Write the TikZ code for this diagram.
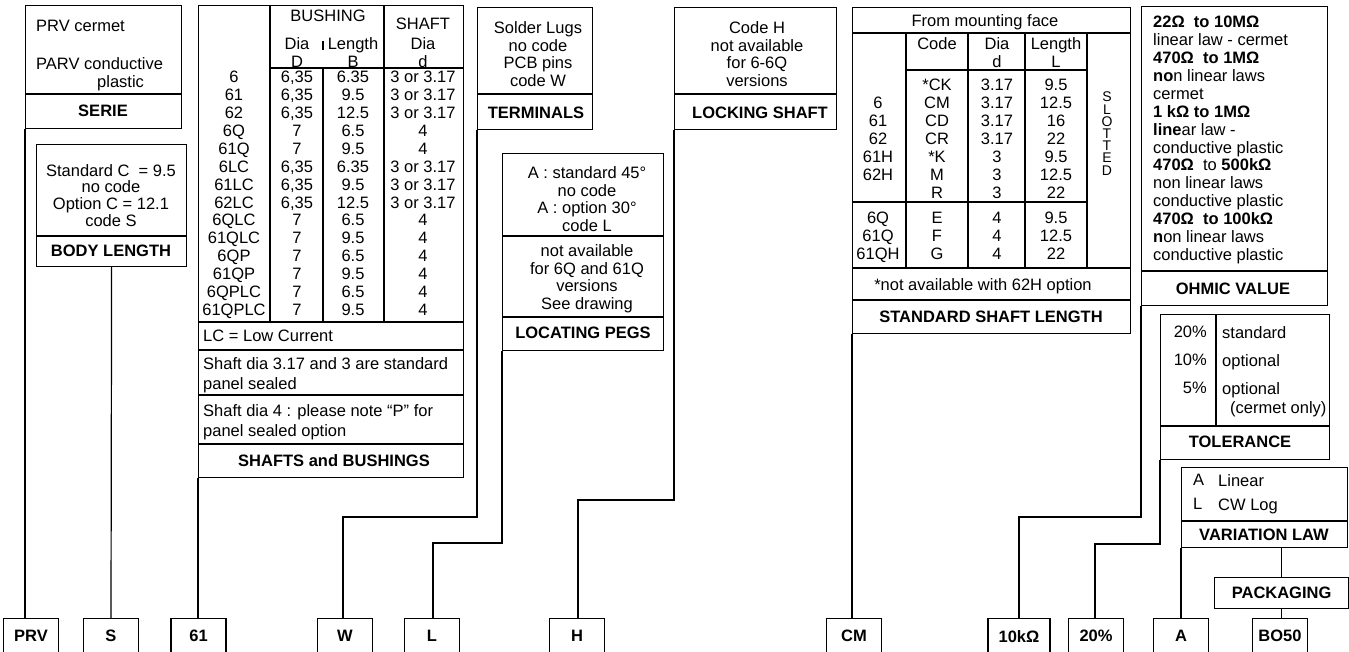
\documentclass[tikz,border=0pt]{standalone}
\usepackage{fontspec}
\setmainfont{Liberation Sans}
\newcommand\dfont{\fontsize{16.5}{17.9}\selectfont}
\begin{document}
\begin{tikzpicture}[
        x=1pt, y=-1pt, % координаты в пикселях, ось y вниз
        cell/.style={draw, line width=1.2pt, inner sep=0, anchor=north west}, % рамка блока
        kod/.style={draw, line width=1.2pt, minimum width=55, minimum height=35, anchor=north, inner sep=0, font=\dfont\bfseries}, % код внизу
        txt/.style={inner sep=0, font=\dfont, align=center, anchor=north},
        ltxt/.style={inner sep=0, font=\dfont, align=left, anchor=north west},
        head/.style={inner sep=0, font=\dfont\bfseries, anchor=north},
        link/.style={line width=1.2pt},
    ]
    \useasboundingbox (0,0) rectangle (1349,651);

    % SERIE
    \node[cell, minimum width=156, minimum height=123] (serie) at (25,5) {};
    \draw[link] (25,94) -- (181,94);
    \node[ltxt] (prvtxt) at (36,20) {PRV cermet};
    \node[ltxt] (parvtxt) at (36,57) {PARV conductive\\\hspace*{61pt}plastic};
    \node[head] (serietit) at (103,105) {SERIE};

    % BODY LENGTH
    \node[cell, minimum width=150, minimum height=122] (body) at (36,144) {};
    \draw[link] (36,236) -- (186,236);
    \node[txt, font=\fontsize{16.5}{16.7}\selectfont] (bodytxt) at (111,164) {Standard C\ \ = 9.5\\no code\\Option C = 12.1\\code S};
    \node[head] (bodytit) at (111,245) {BODY LENGTH};

    % SHAFTS and BUSHINGS
    \node[cell, minimum width=265, minimum height=472] (shafts) at (198,5) {};
    \draw[link] (270,5) -- (270,322) (384,5) -- (384,322) (323,68) -- (323,322) (323,41) -- (323,50) (270,68) -- (463,68);
    \foreach \y in {322,350,395,444} \draw[link] (198,\y) -- (463,\y);
    \node[txt] (bushh) at (328,10) {BUSHING};
    \node[txt] (shafth) at (423,18) {SHAFT};
    \node[txt] (diaDh) at (297,37) {Dia\\D};
    \node[txt] (lenBh) at (353,37) {Length\\B};
    \node[txt] (diadh) at (423,37) {Dia\\d};
    \node[txt] (typ) at (234,71) {6\\61\\62\\6Q\\61Q\\6LC\\61LC\\62LC\\6QLC\\61QLC\\6QP\\61QP\\6QPLC\\61QPLC};
    \node[txt] (bushD) at (297,71) {6,35\\6,35\\6,35\\7\\7\\6,35\\6,35\\6,35\\7\\7\\7\\7\\7\\7};
    \node[txt] (bushB) at (353,71) {6.35\\9.5\\12.5\\6.5\\9.5\\6.35\\9.5\\12.5\\6.5\\9.5\\6.5\\9.5\\6.5\\9.5};
    \node[txt] (shaftd) at (423,71) {3 or 3.17\\3 or 3.17\\3 or 3.17\\4\\4\\3 or 3.17\\3 or 3.17\\3 or 3.17\\4\\4\\4\\4\\4\\4};
    \node[ltxt] (lowcur) at (203,330) {LC = Low Current};
    \node[ltxt, font=\fontsize{16.5}{20.5}\selectfont] (stdseal) at (203,357) {Shaft dia 3.17 and 3 are standard\\panel sealed};
    \node[ltxt, font=\fontsize{16.5}{20.5}\selectfont] (pnote) at (203,404) {Shaft dia 4 : please note “P” for\\panel sealed option};
    \node[head] (shafttit) at (334,454) {SHAFTS and BUSHINGS};

    % TERMINALS
    \node[cell, minimum width=115, minimum height=122] (term) at (477,7) {};
    \draw[link] (477,94) -- (592,94);
    \node[txt] (termtxt) at (538,21) {Solder Lugs\\no code\\PCB pins\\code W};
    \node[head] (termtit) at (536,107) {TERMINALS};

    % LOCATING PEGS
    \node[cell, minimum width=161, minimum height=197] (pegs) at (502,153) {};
    \draw[link] (502,236) -- (663,236) (502,317) -- (663,317);
    \node[txt] (pegtxt) at (587,166) {A : standard 45°\\no code\\A : option 30°\\code L};
    \node[txt] (pegnote) at (587,244) {not available\\for 6Q and 61Q\\versions\\See drawing};
    \node[head] (pegtit) at (583,327) {LOCATING PEGS};

    % LOCKING SHAFT
    \node[cell, minimum width=162, minimum height=122] (lock) at (674,7) {};
    \draw[link] (674,94) -- (836,94);
    \node[txt] (locktxt) at (757,21) {Code H\\not available\\for 6-6Q\\versions};
    \node[head] (locktit) at (760,107) {LOCKING SHAFT};

    % STANDARD SHAFT LENGTH
    \node[cell, minimum width=278, minimum height=326] (ssl) at (852,7) {};
    \draw[link] (852,33) -- (1130,33) (906,70) -- (1087,70) (852,202) -- (1087,202) (852,268) -- (1130,268) (852,300) -- (1130,300);
    \foreach \x in {906,968,1025,1087} \draw[link] (\x,33) -- (\x,268);
    \node[txt] (face) at (985,14) {From mounting face};
    \node[txt] (codeh) at (937,37) {Code};
    \node[txt] (diah) at (997,37) {Dia\\d};
    \node[txt] (lenh) at (1056,37) {Length\\L};
    \node[txt] (ver1) at (878,97) {6\\61\\62\\61H\\62H};
    \node[txt] (code1) at (937,79) {*CK\\CM\\CD\\CR\\*K\\M\\R};
    \node[txt] (dia1) at (997,79) {3.17\\3.17\\3.17\\3.17\\3\\3\\3};
    \node[txt] (len1) at (1056,79) {9.5\\12.5\\16\\22\\9.5\\12.5\\22};
    \node[txt] (ver2) at (878,212) {6Q\\61Q\\61QH};
    \node[txt] (code2) at (937,212) {E\\F\\G};
    \node[txt] (dia2) at (997,212) {4\\4\\4};
    \node[txt] (len2) at (1056,212) {9.5\\12.5\\22};
    \node[txt, font=\fontsize{14}{12.2}\selectfont] (slot) at (1107,92) {S\\L\\O\\T\\T\\E\\D};
    \node[txt] (nota) at (983,278) {*not available with 62H option};
    \node[head] (ssltit) at (991,311) {STANDARD SHAFT LENGTH};

    % OHMIC VALUE
    \node[cell, minimum width=186, minimum height=299] (ohm) at (1141,6) {};
    \draw[link] (1141,271) -- (1327,271);
    \node[ltxt] (ohmtxt) at (1153,16) {\textbf{22Ω\ \ to 10MΩ}\\linear law - cermet\\\textbf{470Ω\ \ to 1MΩ}\\\textbf{no}n linear laws\\cermet\\\textbf{1 kΩ to 1MΩ}\\\textbf{line}ar law -\\conductive plastic\\\textbf{470Ω}\ \ to \textbf{500kΩ}\\non linear laws\\conductive plastic\\\textbf{470Ω\ \ to 100kΩ}\\\textbf{n}on linear laws\\conductive plastic};
    \node[head] (ohmtit) at (1233,283) {OHMIC VALUE};

    % TOLERANCE
    \node[cell, minimum width=169, minimum height=145] (tol) at (1160,314) {};
    \draw[link] (1216,314) -- (1216,426) (1160,426) -- (1329,426);
    \node[inner sep=0, font=\fontsize{16.5}{28}\selectfont, align=right, anchor=north east] (tolpct) at (1207,326) {20\%\\10\%\\5\%};
    \node[ltxt, font=\fontsize{16.5}{28}\selectfont] (toltxt) at (1222,326) {standard\\optional\\optional\\[-9pt]\hspace*{8pt}(cermet only)};
    \node[head] (toltit) at (1240,436) {TOLERANCE};

    % VARIATION LAW
    \node[cell, minimum width=166, minimum height=80] (vl) at (1181,467) {};
    \draw[link] (1181,521) -- (1347,521);
    \node[ltxt, font=\fontsize{16.5}{24}\selectfont] (vlcode) at (1193,474) {A\\L};
    \node[ltxt, font=\fontsize{16.5}{24}\selectfont] (vltxt) at (1218,474) {Linear\\CW Log};
    \node[head] (vltit) at (1264,529) {VARIATION LAW};

    % PACKAGING
    \node[cell, minimum width=134, minimum height=31, font=\dfont\bfseries] (pack) at (1214,577) {PACKAGING};

    % коды заказа
    \node[kod] (kodprv) at (31,618) {PRV};
    \node[kod] (kods) at (111,618) {S};
    \node[kod] (kod61) at (198.5,618) {61};
    \node[kod] (kodw) at (345,618) {W};
    \node[kod] (kodl) at (432,618) {L};
    \node[kod] (kodh) at (577,618) {H};
    \node[kod] (kodcm) at (854,618) {CM};
    \node[kod, minimum width=62] (kodohm) at (1019,618) {10kΩ};
    \node[kod] (kodtol) at (1096,618) {20\%};
    \node[kod] (koda) at (1181,618) {A};
    \node[kod] (kodbo) at (1280,618) {BO50};

    % соединительные линии
    \coordinate (jw) at (343,517);
    \coordinate (jl) at (433,543);
    \coordinate (jh) at (578,500);
    \coordinate (jo) at (1019,517);
    \coordinate (jt) at (1095,544);
    \draw[link] (serie.south west) -- (serie.south west |- kodprv.north);
    \draw[link] (body.south) -- (kods.north);
    \draw[link] (shafts.south west) -- (shafts.south west |- kod61.north);
    \draw[link] (term.south west) |- (jw) -- (jw |- kodw.north);
    \draw[link] (pegs.south west) |- (jl) -- (jl |- kodl.north);
    \draw[link] (lock.south west) |- (jh) -- (jh |- kodh.north);
    \draw[link] (ssl.south west) -- (ssl.south west |- kodcm.north);
    \draw[link] (ohm.south west) |- (jo) -- (kodohm.north);
    \draw[link] (tol.south west) |- (jt) -- (jt |- kodtol.north);
    \draw[link] (vl.south west) -- (vl.south west |- koda.north);
    \draw[link] (pack.north |- vl.south) -- (pack.north);
    \draw[link] (pack.south) -- (pack.south |- kodbo.north);
\end{tikzpicture}
\end{document}
